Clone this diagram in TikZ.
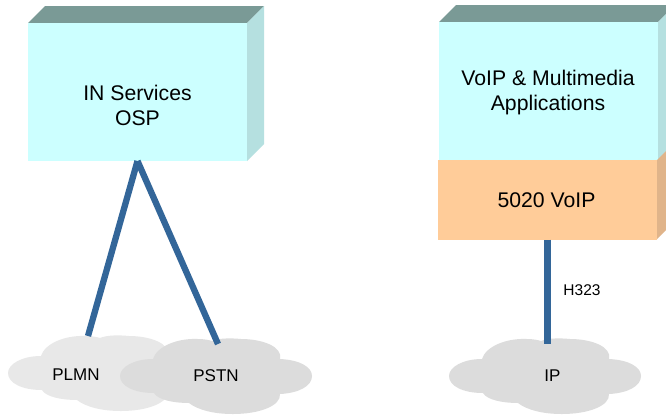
\documentclass[tikz,border=0pt]{standalone}
\usepackage{fontspec}
\setmainfont{Liberation Sans}
\definecolor{frontc}{HTML}{CCFFFF}
\definecolor{topc}{HTML}{7A9A96}
\definecolor{sidec}{HTML}{B5E0E0}
\definecolor{orangec}{HTML}{FFCC99}
\definecolor{orangeside}{HTML}{E0B48A}
\definecolor{linkc}{HTML}{336699}
\definecolor{cloudlight}{HTML}{E8E8E8}
\definecolor{clouddark}{HTML}{DCDCDC}
\tikzset{
  boxfront/.style={rectangle,inner sep=0pt,outer sep=0pt,minimum width=219pt,fill=frontc},
  biglabel/.style={align=center,inner sep=0pt,font=\fontsize{21.2}{25}\selectfont},
  cloudlabel/.style={inner sep=0pt,font=\fontsize{17}{20}\selectfont},
  smalllabel/.style={inner sep=0pt,font=\fontsize{15.5}{18}\selectfont},
  link/.style={draw=linkc,line width=6.3pt,line cap=butt}
}
% cloud outline in the IP cloud's position, moved by #1,#2, filled with #3
\newcommand{\cloudshape}[3]{%
  \fill[#3,shift={(#1,#2)}] (482,359)
    .. controls (486,346) and (507,338) .. (527,339)
    .. controls (533,339) and (538,340) .. (541,341)
    .. controls (548,338) and (560,338) .. (570,339)
    .. controls (592,339) and (612,347) .. (609,359)
    .. controls (629,360) and (641,367) .. (641,376)
    .. controls (641,386) and (628,393) .. (609,394)
    .. controls (610,406) and (588,414) .. (562,414)
    .. controls (543,414) and (527,410) .. (518,403)
    .. controls (503,403) and (487,400) .. (483,393)
    .. controls (463,393) and (449,386) .. (449,376)
    .. controls (449,367) and (463,359) .. (482,359) -- cycle;}
\begin{document}
\begin{tikzpicture}[x=1pt,y=-1pt]
\clip (0,0) rectangle (666,416);
\fill[white] (0,0) rectangle (666,416);
% left box
\fill[topc] (28,23) -- (45,6) -- (264,6) -- (247,23) -- cycle;
\fill[sidec] (247,23) -- (264,6) -- (264,144) -- (247,161) -- cycle;
\node[boxfront,minimum height=138pt] (osp) at (137.5,92) {};
\node[biglabel] (osplabel) at (137.5,105.5) {IN Services\\OSP};
% right box upper
\fill[topc] (439,22) -- (456,5) -- (675,5) -- (658,22) -- cycle;
\fill[sidec] (658,22) -- (675,5) -- (675,143) -- (658,160) -- cycle;
\node[boxfront,minimum height=138pt] (voipapp) at (548.5,91) {};
\node[biglabel] (voipapplabel) at (548,93) {VoIP \& Multimedia\\Applications};
% right box lower
\fill[orangeside] (657,160) -- (674,143) -- (674,222) -- (657,239) -- cycle;
\node[boxfront,fill=orangec,minimum height=80pt] (voip) at (547.5,199.5) {};
\node[biglabel] (voiplabel) at (546.5,200) {5020 VoIP};
% clouds
\cloudshape{-441}{-3}{cloudlight}
\cloudshape{-329}{0}{clouddark}
\cloudshape{0}{0}{clouddark}
\node[cloudlabel] (plmn) at (76,375) {PLMN};
\node[cloudlabel] (pstn) at (216,375.5) {PSTN};
\node[cloudlabel] (ip) at (552.5,375.5) {IP};
\node[smalllabel] (h323) at (582,290) {H323};
% connector ends
\coordinate (apex) at (137.5,161);
\coordinate (plmntop) at (88,336);
\coordinate (pstntop) at (218,344);
\coordinate (iptop) at (547.5,344);
\draw[link] (apex) -- (plmntop);
\draw[link] (apex) -- (pstntop);
\draw[link] (voip.south) -- (iptop);
\end{tikzpicture}
\end{document}
